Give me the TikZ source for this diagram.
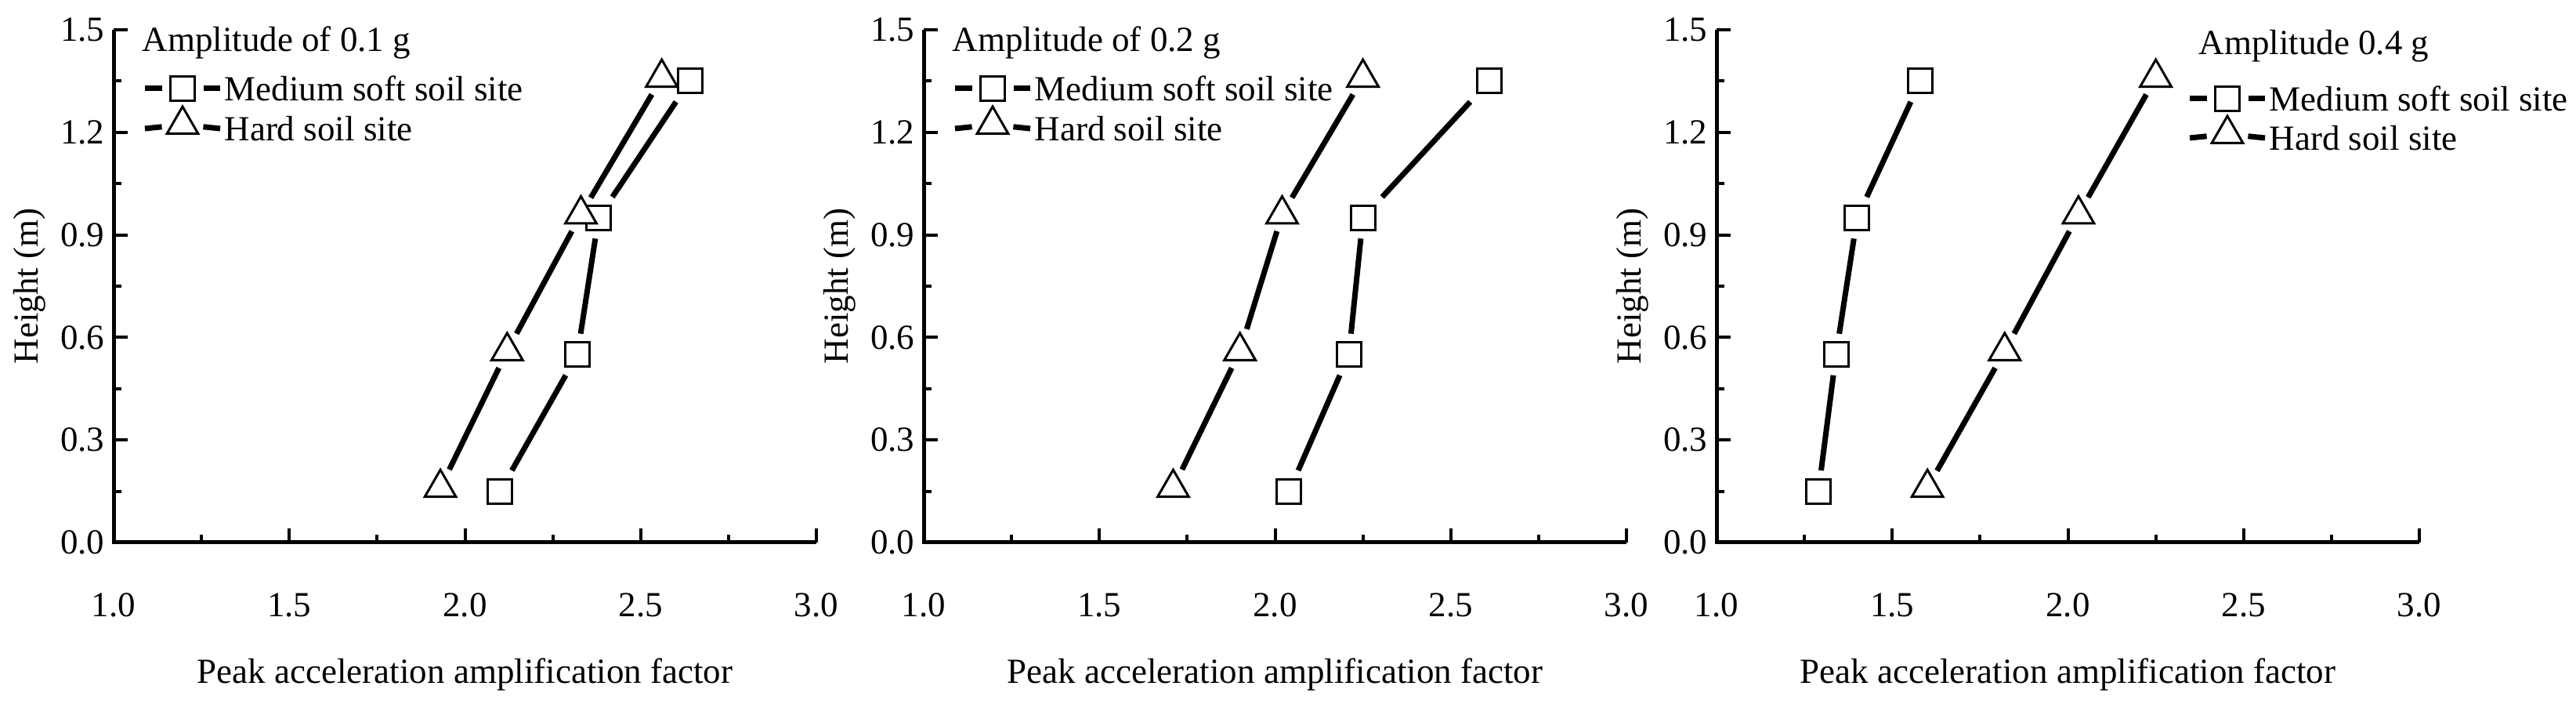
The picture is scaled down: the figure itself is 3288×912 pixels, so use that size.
\documentclass[tikz,border=0pt]{standalone}
\usepackage{fontspec}
\setmainfont{Liberation Serif}
\usetikzlibrary{shapes.geometric}
\tikzset{
 sq/.style={draw,line width=3pt,minimum size=31pt,inner sep=0pt,outer sep=11pt,fill=white,
   path picture={\fill (path picture bounding box.center) circle (2.2pt);}},
 tri/.style={draw,regular polygon,regular polygon sides=3,line width=3pt,minimum size=46pt,inner sep=0pt,outer sep=10pt,fill=white,
   path picture={\fill ([yshift=-5pt]path picture bounding box.center) circle (2.2pt);}},
 dl/.style={line width=7pt},
 ax/.style={line width=5pt},
 lab/.style={font=\fontsize{45}{48}\selectfont},
}
\begin{document}
\begin{tikzpicture}[x=1pt,y=1pt]
\useasboundingbox (0,0) rectangle (3288,912);
\foreach \X/\P in {145/a, 1179/b, 2191/c}{
 \begin{scope}[shift={(\X,220)},x=448.5pt,y=436pt]
  \draw[ax] (0,1.5) -- (0,0) -- (2,0);
  \foreach \t in {0.15,0.45,...,1.4}{\draw[line width=4pt] (0,\t) -- ++(10pt,0);}
  \foreach \t/\l in {0/0.0,0.3/0.3,0.6/0.6,0.9/0.9,1.2/1.2,1.5/1.5}{
    \draw[line width=4pt] (0,\t) -- ++(18pt,0);
    \node[lab,anchor=east] (yt\P\l) at ([xshift=-8pt]0,\t) {\l};}
  \foreach \t in {0.25,0.75,...,1.8}{\draw[line width=4pt] (\t,0) -- ++(0,10pt);}
  \foreach \t/\l in {0/1.0,0.5/1.5,1/2.0,1.5/2.5,2/3.0}{
    \draw[line width=4pt] (\t,0) -- ++(0,18pt);
    \node[lab] (xt\P\l) at ([yshift=-80pt]\t,0) {\l};}
  \node[lab] (xl\P) at ([yshift=-168pt]1,0) {Peak acceleration amplification factor};
  \node[lab,rotate=90] (yl\P) at ([xshift=-107pt]0,0.75) {Height (m)};
 \end{scope}
}
\newcommand\series[4]{%
 \begin{scope}[shift={(#1,220)},x=448.5pt,y=436pt]
 \foreach \a/\b [count=\i] in {#4}{\node[#3] (#2\i) at (\a-1,\b) {};}
 \draw[dl] (#21) -- (#22) -- (#23) -- (#24);
 \end{scope}}
\newcommand\legend[7]{% id, title x, title y, line x, row1 y, row2 y, title
 \node[lab,anchor=west] (lt#1) at (#2,#3) {#7};
 \coordinate (la#1) at (#4,#5);
 \node[sq] (lsq#1) at (#4+48,#5) {};
 \coordinate (lc#1) at (#4+96,#5);
 \draw[dl] (la#1) -- (lsq#1); \draw[dl] (lsq#1) -- (lc#1);
 \node[lab,anchor=west] (lm#1) at (#4+98,#5) {Medium soft soil site};
 \coordinate (ld#1) at (#4,#6);
 \node[tri] (ltr#1) at (#4+48,#6+5) {};
 \coordinate (le#1) at (#4+96,#6);
 \draw[dl] (ld#1) -- (ltr#1); \draw[dl] (ltr#1) -- (le#1);
 \node[lab,anchor=west] (lh#1) at (#4+98,#6) {Hard soil site};
}
\series{145}{am}{sq}{2.10/0.15,2.32/0.55,2.38/0.95,2.64/1.35}
\series{145}{ah}{tri}{1.93/0.16,2.12/0.56,2.33/0.96,2.56/1.36}
\series{1179}{bm}{sq}{2.04/0.15,2.21/0.55,2.25/0.95,2.61/1.35}
\series{1179}{bh}{tri}{1.71/0.16,1.90/0.56,2.02/0.96,2.25/1.36}
\series{2191}{cm}{sq}{1.29/0.15,1.34/0.55,1.40/0.95,1.58/1.35}
\series{2191}{ch}{tri}{1.60/0.16,1.82/0.56,2.03/0.96,2.25/1.36}
\legend{a}{178}{857}{185}{799}{748}{Amplitude of 0.1 g}
\legend{b}{1212}{857}{1219}{799}{748}{Amplitude of 0.2 g}
\legend{c}{2803}{853}{2795}{786}{736}{Amplitude 0.4 g}
\end{tikzpicture}
\end{document}
